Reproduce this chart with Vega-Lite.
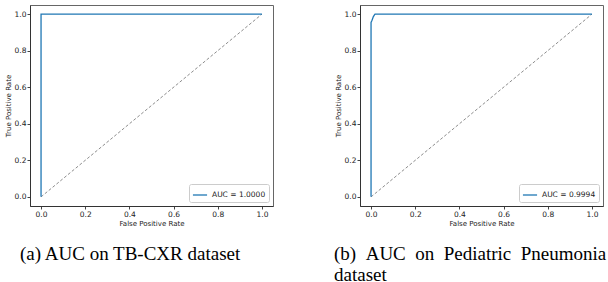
{
  "$schema": "https://vega.github.io/schema/vega-lite/v6.json",
  "padding": {"left": 3, "top": 4, "right": 0, "bottom": 0},
  "background": "white",
  "config": {
    "view": {"stroke": "#666", "strokeWidth": 1},
    "axis": {
      "grid": false,
      "tickSize": 3,
      "tickColor": "#444",
      "domainColor": "#333",
      "labelPadding": 1,
      "labelFont": "DejaVu Sans",
      "labelFontSize": 7.5,
      "labelColor": "#222",
      "labelFlush": false,
      "titleFont": "DejaVu Sans",
      "titleFontSize": 7,
      "titleFontWeight": "normal",
      "titleColor": "#222",
      "titlePadding": 2
    },
    "axisY": {"titlePadding": 3},
    "legend": {
      "orient": "bottom-right",
      "offset": 4,
      "title": null,
      "symbolType": "stroke",
      "symbolStrokeWidth": 1.3,
      "symbolSize": 200,
      "labelFont": "DejaVu Sans",
      "labelFontSize": 7.5,
      "labelColor": "#222",
      "fillColor": "white",
      "strokeColor": "#ccc",
      "cornerRadius": 2,
      "padding": 3
    },
    "title": {
      "orient": "bottom",
      "anchor": "start",
      "frame": "group",
      "font": "Liberation Serif",
      "fontSize": 19,
      "fontWeight": "normal",
      "color": "#000",
      "baseline": "top",
      "lineHeight": 21,
      "offset": 18
    }
  },
  "datasets": {
    "diag": [
      {"fpr": 0, "tpr": 0},
      {"fpr": 1, "tpr": 1}
    ],
    "roc_a": [
      {"i": 0, "fpr": 0, "tpr": 0, "label": "AUC = 1.0000"},
      {"i": 1, "fpr": 0, "tpr": 1, "label": "AUC = 1.0000"},
      {"i": 2, "fpr": 1, "tpr": 1, "label": "AUC = 1.0000"}
    ],
    "roc_b": [
      {"i": 0, "fpr": 0, "tpr": 0, "label": "AUC = 0.9994"},
      {"i": 1, "fpr": 0, "tpr": 0.955, "label": "AUC = 0.9994"},
      {"i": 2, "fpr": 0.004, "tpr": 0.965, "label": "AUC = 0.9994"},
      {"i": 3, "fpr": 0.007, "tpr": 0.975, "label": "AUC = 0.9994"},
      {"i": 4, "fpr": 0.01, "tpr": 0.985, "label": "AUC = 0.9994"},
      {"i": 5, "fpr": 0.014, "tpr": 0.993, "label": "AUC = 0.9994"},
      {"i": 6, "fpr": 0.018, "tpr": 1, "label": "AUC = 0.9994"},
      {"i": 7, "fpr": 1, "tpr": 1, "label": "AUC = 0.9994"}
    ]
  },
  "bounds": "flush",
  "spacing": 87,
  "resolve": {"scale": {"color": "independent"}, "legend": {"color": "independent"}},
  "hconcat": [
    {
      "width": 243,
      "height": 201,
      "title": {"text": "(a) AUC on TB-CXR dataset", "dx": -10},
      "layer": [
        {
          "data": {"name": "diag"},
          "mark": {"type": "line", "color": "#808080", "strokeWidth": 0.9, "strokeDash": [3, 2]},
          "encoding": {
            "x": {"field": "fpr", "type": "quantitative"},
            "y": {"field": "tpr", "type": "quantitative"}
          }
        },
        {
          "data": {"name": "roc_a"},
          "mark": {"type": "line", "strokeWidth": 1.3},
          "encoding": {
            "x": {"field": "fpr", "type": "quantitative", "scale": {"domain": [-0.05, 1.05], "nice": false, "zero": false},
                  "axis": {"title": "False Positive Rate", "values": [0, 0.2, 0.4, 0.6, 0.8, 1.0], "format": ".1f"}},
            "y": {"field": "tpr", "type": "quantitative", "scale": {"domain": [-0.05, 1.05], "nice": false, "zero": false},
                  "axis": {"title": "True Positive Rate", "values": [0, 0.2, 0.4, 0.6, 0.8, 1.0], "format": ".1f"}},
            "color": {"field": "label", "type": "nominal", "scale": {"range": ["#1f77b4"]}, "legend": {"orient": "bottom-right"}},
            "order": {"field": "i", "type": "quantitative"}
          }
        }
      ]
    },
    {
      "width": 243,
      "height": 201,
      "title": {"text": ["(b) \u00a0AUC \u00a0on \u00a0Pediatric \u00a0Pneumonia", "dataset"], "dx": -26},
      "layer": [
        {
          "data": {"name": "diag"},
          "mark": {"type": "line", "color": "#808080", "strokeWidth": 0.9, "strokeDash": [3, 2]},
          "encoding": {
            "x": {"field": "fpr", "type": "quantitative"},
            "y": {"field": "tpr", "type": "quantitative"}
          }
        },
        {
          "data": {"name": "roc_b"},
          "mark": {"type": "line", "strokeWidth": 1.3},
          "encoding": {
            "x": {"field": "fpr", "type": "quantitative", "scale": {"domain": [-0.05, 1.05], "nice": false, "zero": false},
                  "axis": {"title": "False Positive Rate", "values": [0, 0.2, 0.4, 0.6, 0.8, 1.0], "format": ".1f"}},
            "y": {"field": "tpr", "type": "quantitative", "scale": {"domain": [-0.05, 1.05], "nice": false, "zero": false},
                  "axis": {"title": "True Positive Rate", "values": [0, 0.2, 0.4, 0.6, 0.8, 1.0], "format": ".1f"}},
            "color": {"field": "label", "type": "nominal", "scale": {"range": ["#1f77b4"]}, "legend": {"orient": "bottom-right"}},
            "order": {"field": "i", "type": "quantitative"}
          }
        }
      ]
    }
  ]
}
